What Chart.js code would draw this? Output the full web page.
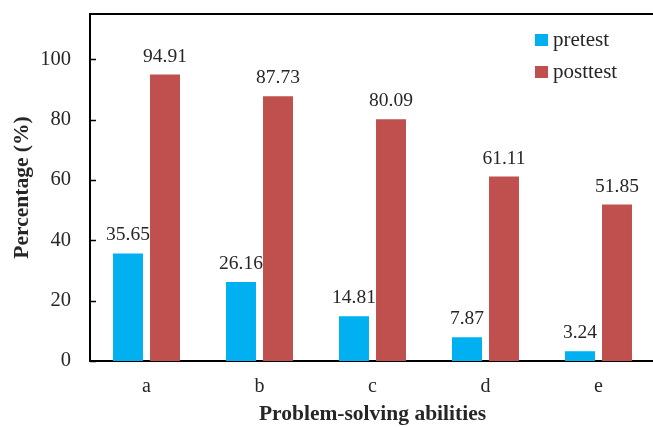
<!DOCTYPE html>
<html>
<head>
<meta charset="utf-8">
<script src="https://cdn.jsdelivr.net/npm/chart.js@4.4.1/dist/chart.umd.min.js"></script>
<style>
  html, body { margin: 0; padding: 0; overflow: hidden; background: #fff; }
  #wrap { width: 655px; height: 427px; }
</style>
</head>
<body>
<div id="wrap"><canvas id="c" width="655" height="427"></canvas></div>
<script>
const categories = ['a', 'b', 'c', 'd', 'e'];
const pretest = [35.65, 26.16, 14.81, 7.87, 3.24];
const posttest = [94.91, 87.73, 80.09, 61.11, 51.85];
const seriesNames = ['pretest', 'posttest'];
const seriesColors = ['#00B0F0', '#C0504D'];
const yTicks = [0, 20, 40, 60, 80, 100];

const FONT = "'Liberation Serif', 'DejaVu Serif', serif";
const TXT = '#262626';

const extras = {
  id: 'extras',
  afterDatasetsDraw(chart) {
    const ctx = chart.ctx;
    const area = chart.chartArea;
    const y = chart.scales.y;
    ctx.save();
    // top border
    ctx.strokeStyle = '#000';
    ctx.lineWidth = 2;
    ctx.beginPath();
    ctx.moveTo(area.left - 1, area.top);
    ctx.lineTo(area.right + 5, area.top);
    ctx.stroke();
    // inward tick marks
    ctx.lineWidth = 1.5;
    y.ticks.forEach(t => {
      const py = Math.round(y.getPixelForValue(t.value)) + 0.5;
      ctx.beginPath();
      ctx.moveTo(area.left, py);
      ctx.lineTo(area.left + 6, py);
      ctx.stroke();
    });
    // data labels
    ctx.font = '19.5px ' + FONT;
    ctx.fillStyle = TXT;
    ctx.textAlign = 'center';
    ctx.textBaseline = 'alphabetic';
    chart.data.datasets.forEach((ds, i) => {
      const meta = chart.getDatasetMeta(i);
      meta.data.forEach((bar, j) => {
        ctx.fillText(ds.data[j].toFixed(2), bar.x, bar.y - 13);
      });
    });
    // legend
    ctx.font = '21px ' + FONT;
    ctx.textAlign = 'left';
    ctx.textBaseline = 'middle';
    chart.data.datasets.forEach((ds, i) => {
      const ly = 40 + i * 32;
      ctx.fillStyle = ds.backgroundColor;
      ctx.fillRect(535, ly - 6, 13, 12);
      ctx.fillStyle = TXT;
      ctx.fillText(ds.label, 553, ly);
    });
    ctx.restore();
  }
};

new Chart(document.getElementById('c'), {
  type: 'bar',
  data: {
    labels: categories,
    datasets: [
      { label: seriesNames[0], data: pretest, backgroundColor: seriesColors[0] },
      { label: seriesNames[1], data: posttest, backgroundColor: seriesColors[1] }
    ]
  },
  options: {
    responsive: false,
    devicePixelRatio: 1,
    animation: false,
    layout: { padding: { top: 14, right: 0, bottom: 0, left: 0 } },
    categoryPercentage: 0.655,
    barPercentage: 0.81,
    plugins: { legend: { display: false }, tooltip: { enabled: false } },
    scales: {
      x: {
        grid: { display: false, drawTicks: false },
        border: { display: true, color: '#000', width: 2 },
        ticks: { color: TXT, font: { family: FONT, size: 20 }, padding: 14 },
        title: { display: true, text: 'Problem-solving abilities', color: TXT,
                 font: { family: FONT, size: 21.5, weight: 'bold' }, padding: { top: 0, bottom: 0 } },
        afterFit(s) { s.height = 66; s.paddingLeft = 0; s.paddingRight = 0; }
      },
      y: {
        min: 0, max: 115,
        afterBuildTicks(s) { s.ticks = yTicks.map(v => ({ value: v })); },
        grid: { display: false, drawTicks: false },
        border: { display: true, color: '#000', width: 2 },
        ticks: { color: TXT, font: { family: FONT, size: 20.5 }, padding: 19 },
        title: { display: true, text: 'Percentage (%)', color: TXT,
                 font: { family: FONT, size: 21.5, weight: 'bold' }, padding: { top: 10, bottom: 0 } },
        afterFit(s) { s.width = 90; s.paddingTop = 0; s.paddingBottom = 0; }
      }
    }
  },
  plugins: [extras]
});
</script>
</body>
</html>
